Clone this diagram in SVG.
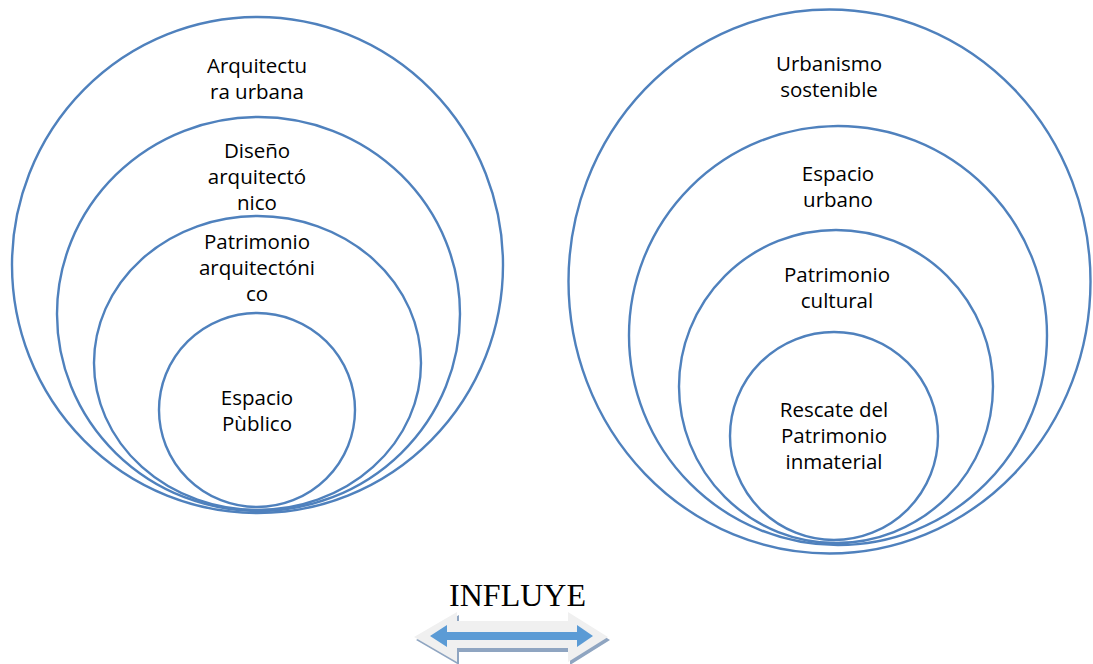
<svg xmlns="http://www.w3.org/2000/svg" width="1093" height="664" viewBox="0 0 1093 664">
<style>
.c{fill:none;stroke:#4F81BD;stroke-width:2.4}
.t{font-family:"Open Sans","Liberation Sans",sans-serif;font-size:20.5px;fill:#000;text-anchor:middle}
.h{font-family:"Liberation Serif","Times New Roman",serif;font-size:32px;fill:#000;text-anchor:middle}
</style>
<rect width="1093" height="664" fill="#fff"/>
<g id="left">
<g id="arquitectura-urbana"><ellipse class="c" cx="257.5" cy="265" rx="245.5" ry="248"/><text class="t" x="257" y="73">Arquitectu</text><text class="t" x="257" y="99">ra urbana</text></g>
<g id="diseno-arquitectonico"><ellipse class="c" cx="258.5" cy="314" rx="201.5" ry="197"/><text class="t" x="257" y="158">Diseño</text><text class="t" x="257" y="184">arquitectó</text><text class="t" x="257" y="210">nico</text></g>
<g id="patrimonio-arquitectonico"><ellipse class="c" cx="257.5" cy="363" rx="163.5" ry="147"/><text class="t" x="257" y="249">Patrimonio</text><text class="t" x="257" y="275">arquitectóni</text><text class="t" x="257" y="301">co</text></g>
<g id="espacio-publico"><ellipse class="c" cx="257" cy="410" rx="98" ry="97"/><text class="t" x="257" y="405">Espacio</text><text class="t" x="257" y="431">Pùblico</text></g>
</g>
<g id="right">
<g id="urbanismo-sostenible"><ellipse class="c" cx="829.5" cy="281.5" rx="261" ry="272"/><text class="t" x="829" y="71">Urbanismo</text><text class="t" x="829" y="97">sostenible</text></g>
<g id="espacio-urbano"><ellipse class="c" cx="838" cy="335.5" rx="209" ry="209.5"/><text class="t" x="838" y="181">Espacio</text><text class="t" x="838" y="207">urbano</text></g>
<g id="patrimonio-cultural"><ellipse class="c" cx="836" cy="386.5" rx="157" ry="156.5"/><text class="t" x="837" y="282">Patrimonio</text><text class="t" x="837" y="308">cultural</text></g>
<g id="rescate"><ellipse class="c" cx="834" cy="436" rx="104" ry="104"/><text class="t" x="834" y="417">Rescate del</text><text class="t" x="834" y="443">Patrimonio</text><text class="t" x="834" y="469">inmaterial</text></g>
</g>
<g id="connectors">
<g id="influye">
<text class="h" x="517.5" y="606">INFLUYE</text>
<path d="M416,640 L459,615 L459,624 L570,624 L570,615 L610,640 L570,665 L570,652 L459,652 L459,665 Z" fill="#8FA5C1"/>
<path d="M414,637 L457,612 L457,621 L568,621 L568,612 L608,637 L568,662 L568,648 L457,648 L457,662 Z" fill="#F0F0F0"/>
<path d="M430,636 L447,625 L447,632 L577,632 L577,625 L593,636 L577,647 L577,640 L447,640 L447,647 Z" fill="#5B9BD5"/>
</g>
</g>
</svg>
